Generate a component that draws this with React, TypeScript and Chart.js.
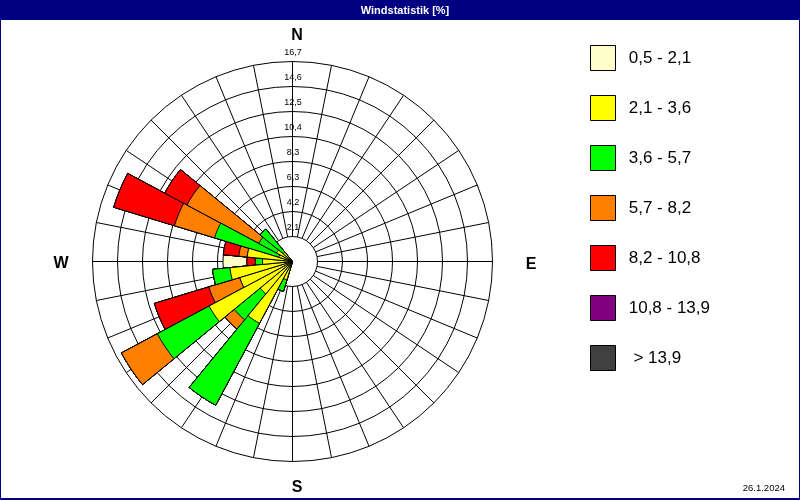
import React, { useEffect, useRef } from 'react';
import { Chart, registerables } from 'chart.js';

Chart.register(...registerables);

// 32 compass directions, clockwise from north
const DIRECTIONS = ['N', 'NzO', 'NNO', 'NOzN', 'NO', 'NOzO', 'ONO', 'OzN', 'O', 'OzS', 'OSO', 'SOzO', 'SO', 'SOzS', 'SSO', 'SzO',
  'S', 'SzW', 'SSW', 'SWzS', 'SW', 'SWzW', 'WSW', 'WzS', 'W', 'WzN', 'WNW', 'NWzW', 'NW', 'NWzN', 'NNW', 'NzW'];

// speed classes (legend order)
const CLASS_LABELS = ['0,5 - 2,1', '2,1 - 3,6', '3,6 - 5,7', '5,7 - 8,2', '8,2 - 10,8', '10,8 - 13,9', ' > 13,9'];
const CLASS_COLORS = ['#FFFFCC', '#FFFF00', '#00FF00', '#FF8000', '#FF0000', '#800080', '#404040'];

// share of time [%] per direction and speed class
const CLASS_0_5_2_1 = [0, 0, 0, 0, 0, 0, 0, 0, 0, 0, 0, 0, 0, 0, 0, 0, 0, 0, 0, 0, 0, 0, 0, 0, 2.0, 0, 0, 0, 0, 0, 0, 0];
const CLASS_2_1_3_6 = [0, 0, 0, 0, 0, 0, 0, 0, 0, 0, 0, 0, 0, 0, 0, 0, 0, 0, 1.6, 5.85, 3.5, 7.9, 4.6, 5.25, 2.5, 3.8, 1.2, 1.5, 1.0, 0, 0, 0];
const CLASS_3_6_5_7 = [0, 0, 0, 0, 0, 0, 0, 0, 0, 0, 0, 0, 0, 0, 0, 0, 0, 0, 1.0, 7.75, 2.8, 4.9, 0, 1.45, 0.6, 0, 5.6, 1.7, 2.5, 0, 0, 0];
const CLASS_5_7_8_2 = [0, 0, 0, 0, 0, 0, 0, 0, 0, 0, 0, 0, 0, 0, 0, 0, 0, 0, 0, 0, 1.0, 3.4, 2.7, 0, 0, 0.7, 3.5, 6.8, 0, 0, 0, 0];
const CLASS_8_2_10_8 = [0, 0, 0, 0, 0, 0, 0, 0, 0, 0, 0, 0, 0, 0, 0, 0, 0, 0, 0, 0, 0, 0, 4.75, 0, 0.7, 1.3, 5.3, 2.1, 0, 0, 0, 0];
const CLASS_10_8_13_9 = [0, 0, 0, 0, 0, 0, 0, 0, 0, 0, 0, 0, 0, 0, 0, 0, 0, 0, 0, 0, 0, 0, 0, 0, 0, 0, 0, 0, 0, 0, 0, 0];
const CLASS_OVER_13_9 = [0, 0, 0, 0, 0, 0, 0, 0, 0, 0, 0, 0, 0, 0, 0, 0, 0, 0, 0, 0, 0, 0, 0, 0, 0, 0, 0, 0, 0, 0, 0, 0];

const CLASS_VALUES = [CLASS_0_5_2_1, CLASS_2_1_3_6, CLASS_3_6_5_7, CLASS_5_7_8_2, CLASS_8_2_10_8, CLASS_10_8_13_9, CLASS_OVER_13_9];
// order of the segments from the centre outwards (class indices)
const STACK_ORDER = [1, 2, 3, 4, 5, 6, 0];

// radial axis
const SCALE_MAX = 16.7;
const RING_COUNT = 8;
const TICK_LABELS = ['2,1', '4,2', '6,3', '8,3', '10,4', '12,5', '14,6', '16,7'];
const CARDINALS = ['N', 'E', 'S', 'W'];

const TITLE = 'Windstatistik [%]';
const DATE_TEXT = '26.1.2024';

const CENTER_X = 292.5;
const CENTER_Y = 261.5;
const RADIUS = 200;
const FONT = '"Liberation Sans", Arial, sans-serif';

const TICK_VALUES = Array.from({ length: RING_COUNT + 1 }, (_, i) => (SCALE_MAX * i) / RING_COUNT);

function buildDatasets() {
  return STACK_ORDER.map((cls, s) => {
    const data = DIRECTIONS.map((_, k) =>
      STACK_ORDER.slice(0, s + 1).reduce((sum, c) => sum + CLASS_VALUES[c][k], 0)
    );
    return {
      label: CLASS_LABELS[cls],
      data,
      backgroundColor: CLASS_COLORS[cls],
      borderColor: '#000000',
      borderWidth: 1,
    };
  });
}

const decorPlugin = {
  id: 'windroseDecor',
  beforeDraw(chart: any) {
    const { ctx, width, height } = chart;
    ctx.save();
    ctx.fillStyle = '#ffffff';
    ctx.fillRect(0, 0, width, height);
    ctx.fillStyle = '#000080';
    ctx.fillRect(0, 0, width, 20);
    ctx.fillRect(0, 0, 1, height);
    ctx.fillRect(width - 1, 0, 1, height);
    ctx.fillRect(0, height - 2, width, 2);
    ctx.fillStyle = '#ffffff';
    ctx.font = 'bold 11px ' + FONT;
    ctx.textAlign = 'center';
    ctx.textBaseline = 'middle';
    ctx.fillText(TITLE, 405, 10.5);
    ctx.restore();
  },
  beforeDatasetsDraw(chart: any) {
    const s = chart.scales.r;
    const { ctx } = chart;
    const r0 = s.getDistanceFromCenterForValue(TICK_VALUES[1]);
    const r1 = s.getDistanceFromCenterForValue(SCALE_MAX);
    ctx.save();
    ctx.strokeStyle = '#000000';
    ctx.lineWidth = 1;
    ctx.beginPath();
    const n = DIRECTIONS.length;
    for (let k = 0; k < n; k++) {
      const a = (k * 2 * Math.PI) / n - Math.PI / 2;
      ctx.moveTo(s.xCenter + r0 * Math.cos(a), s.yCenter + r0 * Math.sin(a));
      ctx.lineTo(s.xCenter + r1 * Math.cos(a), s.yCenter + r1 * Math.sin(a));
    }
    ctx.stroke();
    ctx.restore();
  },
  afterDatasetsDraw(chart: any) {
    const s = chart.scales.r;
    const { ctx } = chart;
    ctx.save();
    ctx.textAlign = 'center';
    ctx.textBaseline = 'middle';
    ctx.fillStyle = '#000000';
    ctx.font = '9px ' + FONT;
    TICK_LABELS.forEach((lab, i) => {
      const r = s.getDistanceFromCenterForValue(TICK_VALUES[i + 1]);
      ctx.fillText(lab, s.xCenter + 0.5, s.yCenter - r - 8.5);
    });
    const rOut = s.getDistanceFromCenterForValue(SCALE_MAX);
    ctx.font = 'bold 16px ' + FONT;
    const pos: Record<string, [number, number]> = {
      N: [s.xCenter + 4.5, s.yCenter - rOut - 25.5],
      E: [s.xCenter + rOut + 38.5, s.yCenter + 3],
      S: [s.xCenter + 4.5, s.yCenter + rOut + 26.5],
      W: [s.xCenter - rOut - 31.5, s.yCenter + 2],
    };
    CARDINALS.forEach((c) => ctx.fillText(c, pos[c][0], pos[c][1]));
    ctx.font = '9.5px ' + FONT;
    ctx.textAlign = 'right';
    ctx.fillText(DATE_TEXT, 785, 488);
    ctx.restore();
  },
};

export default function App() {
  const canvasRef = useRef<HTMLCanvasElement | null>(null);

  useEffect(() => {
    if (!canvasRef.current) return;
    const chart = new Chart(canvasRef.current, {
      type: 'polarArea',
      data: { labels: DIRECTIONS, datasets: buildDatasets() as any },
      options: {
        animation: false,
        responsive: false,
        devicePixelRatio: 1,
        layout: { padding: { top: 20.5, right: 82.5, bottom: 0, left: 0 } },
        scales: {
          r: {
            min: 0,
            max: SCALE_MAX,
            startAngle: -180 / DIRECTIONS.length,
            afterBuildTicks: (sc: any) => {
              sc.ticks = TICK_VALUES.map((v) => ({ value: v }));
            },
            afterFit: (sc: any) => {
              sc.xCenter = CENTER_X;
              sc.yCenter = CENTER_Y;
              sc.drawingArea = RADIUS;
            },
            ticks: { display: false },
            grid: { circular: true, color: '#000000', lineWidth: 1 },
            angleLines: { display: false },
            pointLabels: { display: false },
          } as any,
        },
        plugins: {
          title: { display: false },
          tooltip: { enabled: false },
          legend: {
            display: true,
            position: 'right',
            align: 'start',
            fullSize: true,
            maxWidth: 152,
            onClick: () => {},
            labels: {
              boxWidth: 25,
              boxHeight: 25,
              padding: 25,
              color: '#000000',
              font: { size: 17, family: FONT },
              generateLabels: () =>
                CLASS_LABELS.map((text, i) => ({
                  text: ' ' + text,
                  fillStyle: CLASS_COLORS[i],
                  strokeStyle: '#000000',
                  lineWidth: 1,
                  hidden: false,
                  datasetIndex: STACK_ORDER.indexOf(i),
                })),
            },
          } as any,
        },
      },
      plugins: [decorPlugin],
    });
    return () => chart.destroy();
  }, []);

  return (
    <div style={{ position: 'absolute', left: 0, top: 0, width: 800, height: 500 }}>
      <canvas ref={canvasRef} width={800} height={500} style={{ display: 'block', width: 800, height: 500 }} />
    </div>
  );
}
